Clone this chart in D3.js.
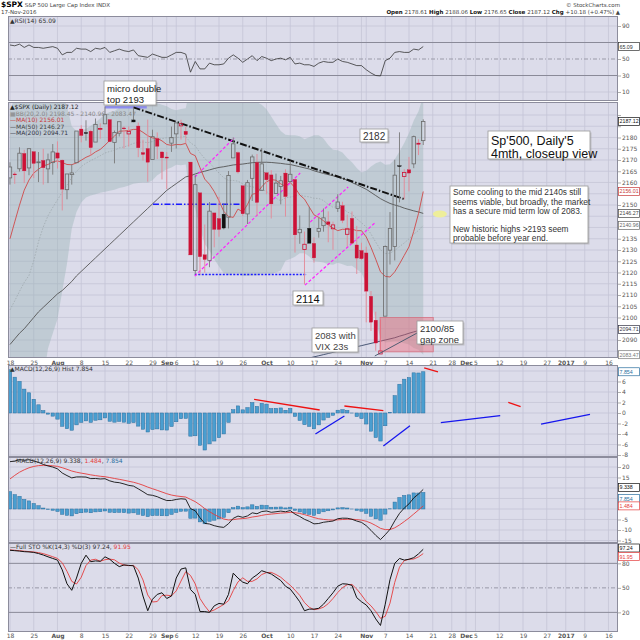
<!DOCTYPE html>
<html lang="en">
<head>
<meta charset="UTF-8">
<title>$SPX Daily</title>
<script src="https://d3js.org/d3.v7.min.js"></script>
<style>
  body { margin: 0; background: #fff; }
  svg text { font-family: "DejaVu Sans", Verdana, sans-serif; }
  .note text { font-family: "Liberation Sans", Arial, sans-serif; }
  svg text.vb { font-family: "Liberation Sans", Arial, sans-serif; }
  .ax path { display: none; }
  .ax line { stroke: #777; stroke-width: 0.6; }
  .ax text { font-size: 6px; fill: #555; font-family: "DejaVu Sans", sans-serif; }
</style>
</head>
<body>
<svg id="chart" width="640" height="640"></svg>
<script>
// ---- data ----
const dates = ["07-18","07-19","07-20","07-21","07-22","07-25","07-26","07-27","07-28","07-29",
  "08-01","08-02","08-03","08-04","08-05","08-08","08-09","08-10","08-11","08-12",
  "08-15","08-16","08-17","08-18","08-19","08-22","08-23","08-24","08-25","08-26",
  "08-29","08-30","08-31","09-01","09-02","09-06","09-07","09-08","09-09",
  "09-12","09-13","09-14","09-15","09-16","09-19","09-20","09-21","09-22","09-23",
  "09-26","09-27","09-28","09-29","09-30","10-03","10-04","10-05","10-06","10-07",
  "10-10","10-11","10-12","10-13","10-14","10-17","10-18","10-19","10-20","10-21",
  "10-24","10-25","10-26","10-27","10-28","10-31","11-01","11-02","11-03","11-04",
  "11-07","11-08","11-09","11-10","11-11","11-14","11-15","11-16","11-17"];
const prevClose = 2161.74;
const opens = [2162.04,2163.79,2166.10,2172.91,2166.47,2173.71,2168.97,2169.81,2166.05,2168.83,
  2173.15,2169.94,2156.81,2163.51,2168.79,2183.76,2182.24,2182.81,2177.97,2183.74,
  2186.08,2187.96,2177.84,2181.90,2184.24,2181.58,2187.81,2185.09,2173.29,2175.10,
  2170.19,2179.45,2173.56,2171.33,2177.49,2181.61,2185.17,2182.76,2169.08,
  2120.86,2155.40,2127.86,2125.36,2146.48,2143.99,2145.94,2144.58,2170.94,2173.29,
  2158.54,2146.04,2161.85,2168.90,2156.51,2164.33,2163.37,2155.15,2158.22,2164.19,
  2160.39,2161.35,2137.67,2130.26,2139.68,2132.95,2138.31,2140.81,2142.51,2139.43,
  2148.50,2149.72,2136.97,2144.06,2132.23,2129.78,2128.68,2109.43,2098.80,2083.79,
  2100.59,2129.92,2131.56,2167.49,2162.71,2165.64,2168.29,2177.53,2178.61];
const highs = [2168.99,2164.63,2175.63,2174.56,2175.11,2173.71,2173.54,2174.98,2172.85,2177.09,
  2178.29,2170.20,2163.79,2168.19,2182.87,2185.44,2187.66,2183.41,2188.45,2186.28,
  2193.81,2187.96,2183.08,2187.03,2185.00,2184.94,2193.42,2186.66,2179.00,2187.94,
  2183.48,2182.27,2173.79,2173.56,2184.87,2186.57,2187.87,2184.94,2169.08,
  2163.30,2155.40,2141.33,2151.31,2146.48,2153.61,2150.80,2165.11,2179.99,2173.75,
  2158.54,2161.13,2172.40,2172.67,2175.30,2164.41,2165.46,2163.95,2162.93,2165.86,
  2169.60,2161.56,2145.36,2138.19,2149.19,2135.61,2144.38,2148.44,2147.18,2142.63,
  2154.79,2151.44,2145.73,2147.13,2140.72,2133.25,2131.45,2111.76,2102.56,2099.07,
  2132.00,2146.87,2170.10,2182.30,2165.92,2171.36,2180.84,2179.22,2188.06];
const lows = [2159.07,2159.40,2164.89,2159.75,2163.24,2161.95,2160.18,2159.07,2159.74,2163.49,
  2166.21,2147.58,2152.53,2159.07,2168.79,2177.85,2178.61,2172.00,2177.97,2179.42,
  2186.08,2178.15,2168.50,2180.46,2175.13,2175.96,2186.80,2171.25,2169.74,2160.39,
  2170.19,2170.41,2161.35,2157.09,2173.59,2175.10,2179.07,2177.49,2127.81,
  2119.12,2119.12,2119.90,2122.36,2131.20,2135.91,2139.17,2139.57,2170.94,2163.97,
  2145.04,2141.55,2151.79,2145.20,2156.51,2154.77,2144.01,2155.15,2150.28,2144.85,
  2160.39,2128.84,2132.77,2114.72,2132.98,2124.43,2135.49,2138.15,2133.44,2130.09,
  2146.91,2141.93,2131.59,2132.52,2119.36,2125.53,2097.85,2094.00,2085.23,2083.79,
  2100.59,2123.56,2125.35,2151.17,2152.49,2156.08,2166.38,2172.20,2176.65];
const closes = [2166.89,2163.78,2173.02,2165.17,2175.03,2168.48,2169.18,2166.58,2170.06,2173.60,
  2170.84,2157.03,2163.79,2164.25,2182.87,2180.89,2181.74,2175.49,2185.79,2184.05,
  2190.15,2178.15,2182.22,2187.02,2183.87,2182.64,2186.90,2175.44,2172.47,2169.04,
  2180.38,2176.12,2170.95,2170.86,2179.98,2186.48,2186.16,2181.30,2127.81,
  2159.04,2127.02,2125.77,2147.26,2139.16,2139.12,2139.76,2163.12,2177.18,2164.69,
  2146.10,2159.93,2171.37,2151.13,2168.27,2161.20,2150.49,2159.73,2160.77,2153.74,
  2163.66,2136.73,2139.18,2132.55,2132.98,2126.50,2139.60,2144.29,2141.34,2141.16,
  2151.33,2143.16,2139.43,2133.04,2126.41,2126.15,2111.72,2097.94,2088.66,2085.18,
  2131.52,2139.56,2163.26,2167.48,2164.45,2164.20,2180.39,2176.94,2187.12];

const ma10 = [2135.0,2142.5,2149.9,2156.6,2161.1,2164.2,2165.9,2167.4,2168.0,2169.2,
  2169.6,2168.9,2168.0,2167.9,2168.7,2169.9,2171.2,2172.1,2173.6,2174.7,
  2176.6,2178.7,2180.6,2182.8,2182.9,2183.1,2183.6,2183.6,2182.3,2180.8,
  2179.8,2179.6,2178.5,2176.9,2176.5,2176.9,2176.8,2177.4,2172.9,2171.9,
  2166.6,2161.5,2159.2,2156.0,2151.9,2147.2,2144.9,2144.5,2148.2,2146.9,
  2150.2,2154.8,2155.2,2158.1,2160.3,2161.3,2161.0,2159.4,2158.3,2160.0,
  2157.7,2154.5,2152.6,2149.1,2145.6,2144.5,2143.0,2141.1,2139.8,2138.6,
  2139.2,2139.2,2139.3,2138.6,2138.6,2135.8,2131.2,2125.9,2120.3,2118.3,
  2118.0,2120.3,2123.8,2127.6,2131.4,2138.3,2146.2,2156.0];
const ma50 = [2088,2090.5,2093,2095,2097.5,2100,2102.5,2104.5,2106.5,2108.5,
  2110.5,2112,2114,2116,2118.5,2120.5,2122.5,2124.5,2126.5,2128.5,
  2130.5,2132.5,2134.5,2136.5,2138.5,2140.5,2142.5,2144.5,2146.5,2148.5,
  2150.5,2152.5,2154.5,2156.5,2158,2159.5,2161,2162.5,2163,2163.8,
  2164.5,2165,2165.6,2166.2,2166.7,2167,2167.4,2167.8,2168,2168.2,
  2168.5,2168.8,2169,2169,2169,2168.9,2168.7,2168.5,2168.2,2168,
  2167.5,2167,2166.5,2166,2165.2,2164.6,2164,2163.5,2163,2162.4,
  2161.8,2161,2160,2159,2158,2157,2155.6,2154.2,2152.8,2151.7,
  2150.7,2150,2149.4,2148.6,2148,2147.4,2146.9,2146.27];
const ma200 = [2040,2041,2041,2042,2043,2043,2044,2045,2045,2046,
  2047,2047,2048,2049,2050,2050,2051,2052,2053,2053,
  2054,2055,2056,2056,2057,2058,2058,2059,2060,2060,
  2061,2062,2062,2063,2064,2064,2065,2066,2066,2067,
  2067,2068,2069,2069,2070,2071,2071,2072,2073,2073,
  2074,2075,2075,2076,2076,2077,2078,2078,2079,2080,
  2080,2081,2081,2082,2082.5,2083,2083.5,2084,2084.5,2085,
  2085.5,2086,2086.5,2087,2087.5,2088,2088.5,2089,2089.5,2090,
  2090.5,2091,2091.7,2092.3,2093,2093.6,2094.2,2094.71];
const bbMid = [2103.4,2107.4,2111.6,2115.6,2118.7,2125.2,2133.7,2140.2,2145.2,2148.9,
  2152.3,2155.7,2158.9,2162.2,2164.9,2167.1,2168.6,2169.7,2170.8,2171.9,
  2173.1,2173.8,2174.3,2175.4,2175.8,2176.5,2177.4,2177.8,2178.0,2177.7,
  2178.2,2179.2,2179.5,2179.9,2179.7,2180.0,2180.2,2180.5,2177.6,2176.3,
  2173.2,2170.6,2168.8,2166.4,2164.2,2162.1,2160.9,2160.9,2160.6,2159.4,
  2158.4,2158.2,2157.2,2157.0,2156.1,2154.3,2153.0,2151.9,2153.2,2153.5,
  2154.0,2154.6,2153.9,2153.6,2153.0,2152.9,2152.0,2150.2,2149.0,2149.3,
  2148.5,2146.9,2146.0,2143.9,2142.1,2140.2,2137.1,2133.5,2130.1,2128.4,
  2128.6,2129.8,2131.5,2133.1,2135.0,2137.0,2138.7,2140.96];
const bbUpper = [2192.4,2197.4,2203.6,2208.6,2213.7,2221.2,2212.7,2208.2,2204.2,2204.9,
  2205.3,2199.7,2193.9,2185.0,2182.9,2183.1,2183.9,2185.2,2186.8,2188.4,
  2190.3,2191.3,2191.8,2193.2,2193.6,2194.3,2195.4,2195.8,2196.0,2195.5,
  2195.4,2195.2,2194.5,2193.9,2192.7,2192.1,2192.7,2193.0,2203.4,2204.3,
  2206.8,2208.6,2207.8,2206.9,2205.7,2204.5,2202.9,2202.4,2201.6,2200.4,
  2198.3,2197.7,2195.7,2194.5,2192.6,2189.3,2186.0,2182.9,2181.2,2181.0,
  2181.0,2180.6,2179.2,2180.1,2181.0,2181.0,2179.5,2176.7,2174.5,2174.3,
  2173.3,2170.9,2169.0,2166.4,2164.4,2165.2,2167.1,2168.5,2169.3,2167.9,
  2168.1,2170.3,2173.8,2177.6,2182.0,2187.6,2191.7,2198.45];
const bbLower = [2014.4,2017.4,2019.6,2022.6,2023.7,2029.2,2054.7,2072.2,2086.2,2092.9,
  2099.3,2111.7,2123.9,2139.4,2146.9,2151.1,2153.3,2154.2,2154.8,2155.4,
  2155.9,2156.3,2156.8,2157.6,2158.0,2158.7,2159.4,2159.8,2160.0,2159.9,
  2161.0,2163.2,2164.5,2165.9,2166.7,2167.9,2167.7,2168.0,2151.8,2148.3,
  2139.6,2132.6,2129.8,2125.9,2122.7,2119.7,2118.9,2119.4,2119.6,2118.4,
  2118.5,2118.7,2118.7,2119.5,2119.6,2119.3,2120.0,2120.9,2125.2,2126.0,
  2127.0,2128.6,2128.6,2127.1,2125.0,2124.8,2124.5,2123.7,2123.5,2124.3,
  2123.7,2122.9,2123.0,2121.4,2119.8,2115.2,2107.1,2098.5,2090.9,2088.9,
  2089.1,2089.3,2089.2,2088.6,2088.0,2086.4,2085.7,2083.47];

const rsi = [67,66,68,64,67,64,64,63,64,65,
  63,55,58,58,63,62,62,59,63,62,
  64,58,60,62,60,59,61,54,53,52,
  56,54,52,52,55,58,58,56,34,47,
  38,38,45,43,43,44,51,55,51,46,
  50,54,48,53,51,48,50,51,49,52,
  44,45,43,43,41,45,47,46,46,50,
  47,46,44,42,42,37,33,30,29.5,48,
  51,58,59,58,58,62,61,65.09];

const macd = [22.53,22.83,23.54,23.21,23.47,22.88,22.22,21.24,20.51,19.98,
  19.12,17.13,15.91,14.81,15.26,15.28,15.20,14.46,14.53,14.29,
  14.42,13.40,12.78,12.53,11.94,11.24,10.91,9.61,8.25,6.81,
  6.51,5.86,4.87,4.03,4.06,4.55,4.86,4.66,0.18,-0.84,
  -4.18,-6.85,-7.15,-7.94,-8.48,-8.75,-7.00,-4.44,-3.37,-3.97,
  -3.30,-1.83,-2.26,-1.21,-0.94,-1.57,-1.31,-1.00,-1.31,-0.74,
  -2.44,-3.55,-4.90,-5.87,-7.08,-6.90,-6.31,-6.02,-5.73,-4.63,
  -4.36,-4.40,-4.89,-5.74,-6.37,-7.94,-10.17,-12.55,-14.55,-12.25,
  -9.68,-5.66,-2.11,0.46,2.44,5.26,7.13,9.338];
const signal = [14.30,16.01,17.52,18.66,19.62,20.27,20.66,20.78,20.73,20.58,
  20.29,19.66,18.91,18.09,17.52,17.07,16.70,16.25,15.91,15.59,
  15.36,14.97,14.53,14.13,13.69,13.20,12.74,12.11,11.34,10.43,
  9.65,8.89,8.09,7.28,6.64,6.22,5.95,5.69,4.59,3.50,
  1.96,0.20,-1.27,-2.60,-3.78,-4.77,-5.22,-5.06,-4.72,-4.57,
  -4.32,-3.82,-3.51,-3.05,-2.63,-2.42,-2.20,-1.96,-1.83,-1.61,
  -1.78,-2.13,-2.68,-3.32,-4.07,-4.64,-4.97,-5.18,-5.29,-5.16,
  -5.00,-4.88,-4.88,-5.05,-5.31,-5.84,-6.71,-7.88,-9.21,-9.82,
  -9.79,-8.96,-7.59,-5.98,-4.30,-2.39,-0.49,1.484];
const hist = [8.23,6.82,6.02,4.55,3.85,2.61,1.56,0.46,-0.22,-0.60,
  -1.17,-2.53,-3.00,-3.28,-2.26,-1.79,-1.50,-1.79,-1.38,-1.30,
  -0.94,-1.57,-1.75,-1.60,-1.75,-1.96,-1.83,-2.50,-3.09,-3.62,
  -3.14,-3.03,-3.22,-3.25,-2.58,-1.67,-1.09,-1.03,-4.41,-4.34,
  -6.14,-7.05,-5.88,-5.34,-4.70,-3.98,-1.78,0.62,1.35,0.60,
  1.02,1.99,1.25,1.84,1.69,0.85,0.89,0.96,0.52,0.87,
  -0.66,-1.42,-2.22,-2.55,-3.01,-2.26,-1.34,-0.84,-0.44,0.53,
  0.64,0.48,-0.01,-0.69,-1.06,-2.10,-3.46,-4.67,-5.34,-2.43,
  0.11,3.30,5.48,6.44,6.74,7.65,7.62,7.854];

const stoK = [96,95.5,95,94.3,94,93.4,92,90.2,88,86,
  84,72,55,47,62,80,90,82,83,82.5,
  88,85,80,76,78,77.5,77,62,40,22,
  36,42,44,37,40,62,73,74.5,48,42,
  21,21,20,28,31,30,42,68,62,57,
  55,62,66,71,69,67,63,59,52,48.5,
  41,33,22,24,24,25,30,37,44,52,
  55,54.6,53,38,33,29,22,12,4,30,
  60,80,86,84,85,87,91.6,97.24];
const stoD = [96.5,96,95.5,94.9,94.4,93.9,93.1,91.9,90.1,88.1,
  86,80.7,70.3,58,54.7,63,77.3,84,85,82.5,
  84.5,85.2,84.3,80.3,78,77.2,77.5,72.2,59.7,41.3,
  32.7,33.3,40.7,41,40.3,46.3,58.3,69.8,65.2,54.8,
  37,28,20.7,23,26.3,29.7,34.3,46.7,57.3,62.3,
  58,58,61,66.3,68.7,69,66.3,63,58,53.2,
  47.2,40.8,32,26.3,23.3,24.3,26.3,30.7,37,44.3,
  50.3,53.9,54.2,48.5,41.3,33.3,28,21,12.7,15.3,
  31.3,56.7,75.3,83.3,85,85.3,87.9,91.95];

// x-axis ticks: trading-day index (future days projected) and label
const tickIdx  = [0,5,10,15,20,25,30,33,35,39,44,49,54,59,64,69,74,75,79,84,89,93,96,98,103,108,113,117,121,126];
const tickText = ["18","25","Aug","8","15","22","29","Sep","6","12","19","26","Oct","10","17","24","","Nov","7","14","21","28","Dec","5","12","19","27","2017","9","16"];
const months = ["Aug","Sep","Oct","Nov","Dec","2017"];

// ---- layout ----
const svg = d3.select("#chart");
const L = 8, R = 618;
const BG = "#dcdcea", GRID = "#c5c5d7", BORDER = "#8c8c9c";

const x  = d3.scaleLinear().domain([-0.42, 128]).range([L, R]);
const ry = d3.scaleLinear().domain([0, 100]).range([100.25, 17.75]);
const py = d3.scaleLinear().domain([2082, 2195.333]).range([358, 103]);
const hy = d3.scaleLinear().domain([-8.38, 9.14]).range([457, 365]);
const my = d3.scaleLinear().domain([-16.19, 24.76]).range([543, 457]);
const sy = d3.scaleLinear().domain([-4.0, 104.9]).range([632, 543]);

const defs = svg.append("defs");
function panel(id, top, bottom, ys, grid) {
  svg.append("rect").attr("x", L).attr("y", top).attr("width", R - L).attr("height", bottom - top).attr("fill", BG);
  defs.append("clipPath").attr("id", id).append("rect")
    .attr("x", L).attr("y", top).attr("width", R - L).attr("height", bottom - top);
  const g = svg.append("g").attr("clip-path", `url(#${id})`);
  g.append("g").selectAll("line").data(tickIdx).join("line")
    .attr("x1", d => x(d)).attr("x2", d => x(d)).attr("y1", top).attr("y2", bottom)
    .attr("stroke", GRID).attr("stroke-width", 0.8);
  g.append("g").selectAll("line").data(grid).join("line")
    .attr("x1", L).attr("x2", R).attr("y1", d => ys(d)).attr("y2", d => ys(d))
    .attr("stroke", GRID).attr("stroke-width", 0.8);
  return g;
}
function border(top, bottom) {
  svg.append("rect").attr("x", L + 0.5).attr("y", top + 0.5).attr("width", R - L - 1).attr("height", bottom - top - 1)
    .attr("fill", "none").attr("stroke", BORDER).attr("stroke-width", 1);
}
// right axis; tick labels hidden where a value box sits on top of them
function rightAxis(ys, vals, boxYs) {
  const a = svg.append("g").attr("class", "ax").attr("transform", `translate(${R},0)`)
    .call(d3.axisRight(ys).tickValues(vals).tickSize(3).tickPadding(1).tickFormat(d => String(d)));
  a.selectAll(".tick text").filter(d => (boxYs || []).some(b => Math.abs(ys(d) - b) < 6.5)).remove();
}
function valueBox(yy, txt, col) {
  svg.append("rect").attr("x", R + 0.5).attr("y", yy - 4).attr("width", 21).attr("height", 8)
    .attr("fill", "#fff").attr("stroke", col).attr("stroke-width", 0.7);
  svg.append("text").attr("class", "vb").attr("x", R + 1.5).attr("y", yy + 2).attr("font-size", 5.3).attr("fill", col).text(txt);
}
function bottomAxis(yPos) {
  const a = svg.append("g").attr("class", "ax").attr("transform", `translate(0,${yPos})`)
    .call(d3.axisBottom(x).tickValues(tickIdx).tickSize(0).tickPadding(2).tickFormat((d, i) => tickText[i]));
  a.selectAll("text").attr("font-weight", (d, i) => months.includes(tickText[i]) ? "bold" : "normal")
    .attr("fill", (d, i) => months.includes(tickText[i]) ? "#222" : "#555");
}
const line = (ys, arr) => d3.line().x((d, i) => x(i)).y(d => ys(d))(arr);

// ---- header ----
const hdr = svg.append("g");
hdr.append("text").attr("x", 1).attr("y", 7).attr("font-size", 7.5).attr("font-weight", "bold").text("$SPX")
  .append("tspan").attr("font-size", 5.5).attr("font-weight", "normal").attr("fill", "#444").text(" S&P 500 Large Cap Index  INDX");
hdr.append("text").attr("x", 1).attr("y", 14).attr("font-size", 5.5).attr("fill", "#444").text("17-Nov-2016");
hdr.append("text").attr("x", 620).attr("y", 7).attr("font-size", 5.5).attr("fill", "#444").attr("text-anchor", "end").text("© StockCharts.com");
const ohlc = hdr.append("text").attr("x", 620).attr("y", 14).attr("font-size", 5.5).attr("fill", "#444").attr("text-anchor", "end");
[["Open ", "2178.61  "], ["High ", "2188.06  "], ["Low ", "2176.65  "], ["Close ", "2187.12  "], ["Chg ", "+10.18 (+0.47%) ▲"]]
  .forEach(([k, v]) => { ohlc.append("tspan").attr("font-weight", "bold").attr("fill", "#111").text(k); ohlc.append("tspan").text(v); });

// ---- RSI panel ----
const gR = panel("cR", 16, 101, ry, [10, 90]);
[70, 30].forEach(v => gR.append("line").attr("x1", L).attr("x2", R).attr("y1", ry(v)).attr("y2", ry(v)).attr("stroke", "#8a8a98").attr("stroke-width", 1));
gR.append("line").attr("x1", L).attr("x2", R).attr("y1", ry(50)).attr("y2", ry(50)).attr("stroke", "#9a9aa8").attr("stroke-dasharray", "4,2,1,2");
gR.append("path").attr("d", line(ry, rsi)).attr("fill", "none").attr("stroke", "#333").attr("stroke-width", 0.8);
border(16, 101);
rightAxis(ry, [90, 70, 50, 30, 10], [ry(65.09)]);
valueBox(ry(65.09), "65.09", "#333");
svg.append("text").attr("x", 10).attr("y", 23).attr("font-size", 6).attr("fill", "#333").text("▲RSI(14) 65.09");

// ---- price panel ----
const priceGrid = d3.range(2085, 2195, 5);
const gP = panel("cP", 102, 358, py, priceGrid);
gP.append("path")
  .attr("d", d3.area().x((d, i) => x(i)).y0((d, i) => py(bbLower[i])).y1(d => py(d))(bbUpper))
  .attr("fill", "#8fb0b0").attr("fill-opacity", 0.36);
gP.append("path").attr("d", line(py, bbMid)).attr("fill", "none").attr("stroke", "#9aa4a8").attr("stroke-width", 0.7).attr("stroke-dasharray", "1.5,1.5");
gP.append("path").attr("d", line(py, ma200)).attr("fill", "none").attr("stroke", "#223355").attr("stroke-width", 0.8);
gP.append("path").attr("d", line(py, ma50)).attr("fill", "none").attr("stroke", "#555").attr("stroke-width", 0.9);
gP.append("path").attr("d", line(py, ma10)).attr("fill", "none").attr("stroke", "#d04848").attr("stroke-width", 0.9);

// drawn trend lines (index, price)
const seg = (g, a, b, col, w, dash) => g.append("line")
  .attr("x1", x(a[0])).attr("y1", py(a[1])).attr("x2", x(b[0])).attr("y2", py(b[1]))
  .attr("stroke", col).attr("stroke-width", w).attr("stroke-dasharray", dash || null);
seg(gP, [20, 2193.4], [28.8, 2193.4], "#8c8cf0", 2.5);
seg(gP, [26, 2193.4], [82.9, 2152.7], "#111", 2, "7,2,1.5,2");
seg(gP, [30.1, 2150.3], [48.8, 2150.3], "#1a1aff", 1.4, "6,2,1.5,2");
seg(gP, [38.9, 2119.1], [62.5, 2119.1], "#1a1aff", 1.4, "2,1.5");
seg(gP, [38.9, 2118.4], [61.1, 2164.2], "#ff22ff", 1.2, "3,2");
seg(gP, [38.9, 2162.4], [47.2, 2179.8], "#ff22ff", 1.2, "3,2");
seg(gP, [63.2, 2142.4], [71.2, 2158.0], "#ff22ff", 1.2, "3,2");
seg(gP, [62.1, 2114.4], [76.8, 2142.0], "#ff22ff", 1.2, "3,2");

// candles
const cg = gP.append("g").selectAll("g").data(dates).join("g");
dates.forEach((d, i) => {
  const o = opens[i], c = closes[i];
  const prev = i ? closes[i - 1] : prevClose;
  const red = c < prev, hollow = c > o;
  const col = red ? "#cc1236" : (hollow ? "#6a6a6a" : "#111");
  const wick = red ? "#e48896" : "#7a7a7a";
  const top = py(Math.max(o, c)), bot = py(Math.min(o, c)), xx = x(i);
  const g = d3.select(cg.nodes()[i]);
  g.append("line").attr("x1", xx).attr("x2", xx).attr("y1", py(highs[i])).attr("y2", top).attr("stroke", wick).attr("stroke-width", 0.9);
  g.append("line").attr("x1", xx).attr("x2", xx).attr("y1", bot).attr("y2", py(lows[i])).attr("stroke", wick).attr("stroke-width", 0.9);
  g.append("rect").attr("x", xx - 1.7).attr("y", top).attr("width", 3.4).attr("height", Math.max(0.9, bot - top))
    .attr("fill", hollow ? "none" : col).attr("stroke", col).attr("stroke-width", hollow ? 0.8 : 0.3);
});

// gap zone box and pointer
gP.append("rect").attr("x", x(77.9)).attr("y", py(2100)).attr("width", x(89.1) - x(77.9)).attr("height", py(2084.7) - py(2100))
  .attr("fill", "#f06272").attr("fill-opacity", 0.42).attr("stroke", "#d86070").attr("stroke-width", 0.6);
seg(gP, [76.8, 2082.9], [85.7, 2093.1], "#40546a", 0.9);
gP.append("ellipse").attr("cx", x(90.5)).attr("cy", py(2146)).attr("rx", 7).attr("ry", 3.5).attr("fill", "#eeee9a");

border(102, 358);
const priceBoxes = [[2187.12, "#111"], [2156.01, "#c83a3a"], [2146.27, "#444"], [2140.96, "#666"], [2094.71, "#334"], [2083.47, "#777"]];
rightAxis(py, priceGrid.filter(v => v <= 2190), priceBoxes.map(b => py(b[0])));
priceBoxes.forEach(([v, col]) => valueBox(py(v), v.toFixed(2), col));

const leg = svg.append("g").attr("font-size", 6);
leg.append("text").attr("x", 10).attr("y", 109).attr("fill", "#222").text("▲$SPX (Daily) 2187.12");
leg.append("text").attr("x", 10).attr("y", 115.5).attr("fill", "#888").text("▦BB(20,2.0) 2198.45 - 2140.96 - 2083.47");
leg.append("text").attr("x", 10).attr("y", 122).attr("fill", "#c83a3a").text("—MA(10) 2156.01");
leg.append("text").attr("x", 10).attr("y", 128.5).attr("fill", "#444").text("—MA(50) 2146.27");
leg.append("text").attr("x", 10).attr("y", 135).attr("fill", "#334").text("—MA(200) 2094.71");
bottomAxis(358.5);

// ---- MACD histogram panel ----
const gH = panel("cH", 365, 457, hy, [-8, -6, -4, -2, 0, 2, 4, 6, 8]);
gH.append("g").selectAll("rect").data(hist).join("rect")
  .attr("x", (d, i) => x(i) - 1.7).attr("width", 3.4)
  .attr("y", d => hy(Math.max(0, d))).attr("height", d => Math.abs(hy(d) - hy(0)))
  .attr("fill", "#4a9ed0").attr("stroke", "#2a6e9e").attr("stroke-width", 0.5);
const hseg = (a, b, col) => gH.append("line").attr("x1", x(a[0])).attr("y1", hy(a[1])).attr("x2", x(b[0])).attr("y2", hy(b[1]))
  .attr("stroke", col).attr("stroke-width", 1.3);
hseg([51.4, 2.6], [65.2, 0.57], "#ee1111");
hseg([64.3, -4.0], [70.4, -0.57], "#1515ee");
hseg([70.4, 1.33], [78.6, 0.44], "#ee1111");
hseg([78.6, -6.29], [84.2, -2.42], "#1515ee");
hseg([87.2, 8.57], [90.1, 7.81], "#ee1111");
hseg([90.7, -1.85], [103.2, -0.51], "#1515ee");
hseg([104.9, 2.04], [107.5, 1.2], "#ee1111");
hseg([111.8, -2.1], [122.1, -0.25], "#1515ee");
border(365, 457);
rightAxis(hy, [6, 4, 2, 0, -2, -4, -6, -8], [hy(7.854)]);
valueBox(hy(7.854), "7.854", "#2a6e9e");
svg.append("text").attr("x", 10).attr("y", 371).attr("font-size", 6).attr("fill", "#333").text("▲MACD(12,26,9) Hist 7.854");

// ---- MACD panel ----
const gM = panel("cM", 457, 543, my, [-15, -10, -5, 0, 5, 10, 15, 20]);
gM.append("g").selectAll("rect").data(hist).join("rect")
  .attr("x", (d, i) => x(i) - 1.7).attr("width", 3.4)
  .attr("y", d => my(Math.max(0, d))).attr("height", d => Math.abs(my(d) - my(0)))
  .attr("fill", "#4a9ed0").attr("stroke", "#2a6e9e").attr("stroke-width", 0.5);
gM.append("path").attr("d", line(my, signal)).attr("fill", "none").attr("stroke", "#e43c3c").attr("stroke-width", 0.9);
gM.append("path").attr("d", line(my, macd)).attr("fill", "none").attr("stroke", "#111").attr("stroke-width", 0.9);
border(457, 543);
const macdBoxY = [my(9.338) - 2, my(7.854) + 6, my(1.484)];
rightAxis(my, [20, 15, 10, 5, 0, -5, -10, -15], macdBoxY);
valueBox(macdBoxY[0], "9.338", "#111");
valueBox(macdBoxY[1], "7.854", "#2a6e9e");
valueBox(macdBoxY[2], "1.484", "#e43c3c");
const ml = svg.append("text").attr("x", 10).attr("y", 463).attr("font-size", 6).attr("fill", "#333");
ml.append("tspan").text("—MACD(12,26,9) 9.338, ");
ml.append("tspan").attr("fill", "#e43c3c").text("1.484");
ml.append("tspan").text(", ");
ml.append("tspan").attr("fill", "#2a6e9e").text("7.854");

// ---- Full STO panel ----
const gS = panel("cS", 543, 632, sy, []);
[80, 20].forEach(v => gS.append("line").attr("x1", L).attr("x2", R).attr("y1", sy(v)).attr("y2", sy(v)).attr("stroke", "#8a8a98").attr("stroke-width", 1));
gS.append("line").attr("x1", L).attr("x2", R).attr("y1", sy(50)).attr("y2", sy(50)).attr("stroke", "#9a9aa8").attr("stroke-dasharray", "4,2,1,2");
gS.append("path").attr("d", line(sy, stoD)).attr("fill", "none").attr("stroke", "#e43c3c").attr("stroke-width", 0.9);
gS.append("path").attr("d", line(sy, stoK)).attr("fill", "none").attr("stroke", "#111").attr("stroke-width", 1);
border(543, 632);
rightAxis(sy, [80, 50, 20], []);
valueBox(548, "97.24", "#111");
valueBox(556.5, "91.95", "#e43c3c");
const sl = svg.append("text").attr("x", 10).attr("y", 549).attr("font-size", 6).attr("fill", "#333");
sl.append("tspan").text("—Full STO %K(14,3) %D(3) 97.24, ");
sl.append("tspan").attr("fill", "#e43c3c").text("91.95");
bottomAxis(632);

// ---- text notes ----
const notes = svg.append("g").attr("class", "note");
function note(x0, y0, w, h, lines, size, col, lh, pad) {
  notes.append("rect").attr("x", x0 + 1.5).attr("y", y0 + 1.5).attr("width", w).attr("height", h).attr("fill", "#999").attr("opacity", 0.45);
  notes.append("rect").attr("x", x0).attr("y", y0).attr("width", w).attr("height", h).attr("fill", "#fff").attr("stroke", "#9a9a9a").attr("stroke-width", 0.8);
  lines.forEach((t, k) => notes.append("text").attr("x", x0 + (pad || 3)).attr("y", y0 + size + 1 + k * lh)
    .attr("font-size", size).attr("fill", col).text(t));
}
note(104, 81, 52, 24, ["micro double", "top 2193"], 9.5, "#222", 11);
note(360, 129, 28, 13, ["2182"], 10, "#333", 11);
note(488, 131, 102, 28, ["Sp'500, Daily'5", "4mth, closeup view"], 12.5, "#111", 13);
note(450, 186, 138, 57, ["Some cooling to the mid 2140s still", "seems viable, but broadly, the market",
  "has a secure mid term low of 2083.", "", "New historic highs >2193 seem", "probable before year end."], 8.3, "#333", 9.2);
note(293, 291, 30, 14, ["2114"], 11, "#111", 11);
note(312, 328, 46, 24, ["2083 with", "VIX 23s"], 9.5, "#444", 11);
note(417, 321, 46, 23, ["2100/85", "gap zone"], 9.5, "#333", 11);
</script>
</body>
</html>
